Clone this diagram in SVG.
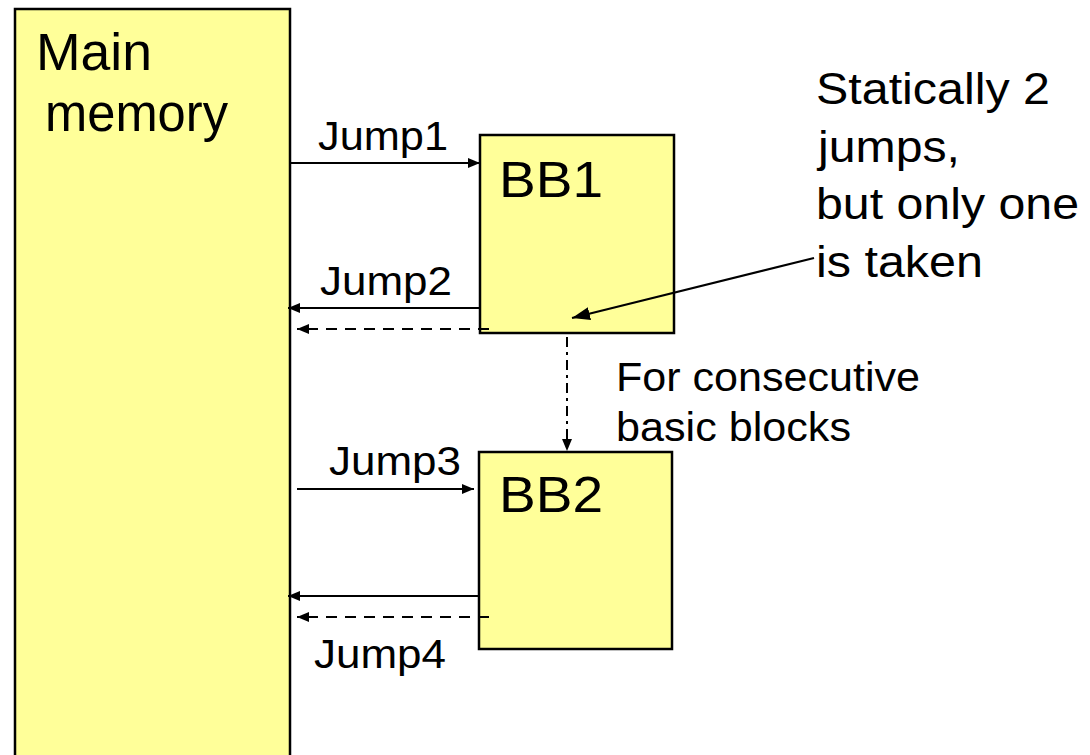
<svg xmlns="http://www.w3.org/2000/svg" width="1090" height="755" viewBox="0 0 1090 755">
<style>
.box{fill:#FFFF99;stroke:#000;stroke-width:2.5}
.t{font-family:"Liberation Sans",Arial,sans-serif;fill:#000}
.c{stroke:#000;stroke-width:2;fill:none}
.dash{stroke-dasharray:11 8}
.dd{stroke-dasharray:10 5 3 5}
</style>
<defs>
<marker id="ah" markerUnits="userSpaceOnUse" markerWidth="14" markerHeight="12" refX="12" refY="5.5" orient="auto">
<path d="M0,0.5 L12,5.5 L0,10.5 Z" fill="#000"/>
</marker>
<marker id="ahBig" markerUnits="userSpaceOnUse" markerWidth="19" markerHeight="15" refX="18" refY="7" orient="auto">
<path d="M0,0.5 L18,7 L0,13.5 Z" fill="#000"/>
</marker>
</defs>
<rect width="1090" height="755" fill="#fff"/>
<g id="main-memory">
<rect class="box" x="15" y="9" width="275" height="770"/>
<text class="t" x="36" y="70" font-size="51" textLength="116" lengthAdjust="spacingAndGlyphs">Main</text>
<text class="t" x="45" y="131" font-size="51" textLength="183" lengthAdjust="spacingAndGlyphs">memory</text>
</g>
<g id="bb1">
<rect class="box" x="480" y="135" width="194" height="198"/>
<text class="t" x="499" y="197" font-size="50" textLength="104" lengthAdjust="spacingAndGlyphs">BB1</text>
</g>
<g id="bb2">
<rect class="box" x="479" y="452" width="193" height="197"/>
<text class="t" x="499" y="512" font-size="50" textLength="104" lengthAdjust="spacingAndGlyphs">BB2</text>
</g>
<g id="note-static">
<text class="t" x="816" y="104" font-size="45" textLength="234" lengthAdjust="spacingAndGlyphs">Statically 2</text>
<text class="t" x="818" y="162" font-size="45" textLength="142" lengthAdjust="spacingAndGlyphs">jumps,</text>
<text class="t" x="816" y="219" font-size="45" textLength="263" lengthAdjust="spacingAndGlyphs">but only one</text>
<text class="t" x="816" y="277" font-size="45" textLength="167" lengthAdjust="spacingAndGlyphs">is taken</text>
</g>
<g id="note-consecutive">
<text class="t" x="616" y="391" font-size="40" textLength="304" lengthAdjust="spacingAndGlyphs">For consecutive</text>
<text class="t" x="616" y="441" font-size="40" textLength="235" lengthAdjust="spacingAndGlyphs">basic blocks</text>
</g>
<g id="connectors">
<line class="c" x1="289" y1="163" x2="480" y2="163" marker-end="url(#ah)"/>
<text class="t" x="318" y="150" font-size="40" textLength="130" lengthAdjust="spacingAndGlyphs">Jump1</text>
<line class="c" x1="480" y1="308" x2="288" y2="308" marker-end="url(#ah)"/>
<text class="t" x="320" y="295" font-size="40" textLength="132" lengthAdjust="spacingAndGlyphs">Jump2</text>
<line class="c dash" x1="489" y1="329" x2="297" y2="329" marker-end="url(#ah)"/>
<line class="c dd" x1="567" y1="337" x2="567" y2="451" marker-end="url(#ah)"/>
<line class="c" x1="297" y1="489" x2="474" y2="489" marker-end="url(#ah)"/>
<text class="t" x="329" y="475" font-size="40" textLength="132" lengthAdjust="spacingAndGlyphs">Jump3</text>
<line class="c" x1="479" y1="596" x2="288" y2="596" marker-end="url(#ah)"/>
<line class="c dash" x1="489" y1="617" x2="297" y2="617" marker-end="url(#ah)"/>
<text class="t" x="314" y="668" font-size="40" textLength="132" lengthAdjust="spacingAndGlyphs">Jump4</text>
<line class="c" x1="814" y1="258" x2="572" y2="318" marker-end="url(#ahBig)"/>
</g>
</svg>
